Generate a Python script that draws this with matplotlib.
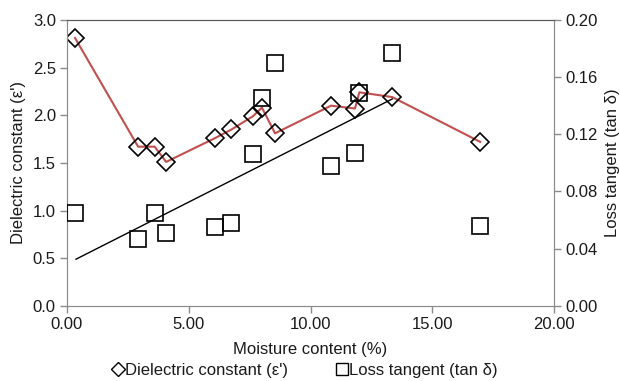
import numpy as np
import matplotlib
matplotlib.use('Agg')
import matplotlib.pyplot as plt
from matplotlib.lines import Line2D

plt.rcParams['font.family'] = ['Liberation Sans', 'DejaVu Sans']

# moisture content (%)
moisture = [0.33, 2.92, 3.60, 4.07, 6.08, 6.75, 7.64, 8.00, 8.54, 10.84, 11.82, 12.00, 13.35, 16.96]
# dielectric constant (left axis)
dielectric = [2.81, 1.67, 1.67, 1.51, 1.76, 1.85, 1.99, 2.08, 1.81, 2.10, 2.07, 2.24, 2.19, 1.72]
# loss tangent (right axis)
loss_tan = [0.065, 0.047, 0.065, 0.051, 0.055, 0.058, 0.106, 0.145, 0.170, 0.098, 0.107, 0.149, 0.177, 0.056]
# linear trend line (drawn against left axis)
trend_x = [0.37, 13.35]
trend_y = [0.49, 2.17]

grey = '#8c8c8c'
txt = '#1a1a1a'
fs = 12

fig = plt.figure(figsize=(6.2, 3.81), dpi=100)
ax = fig.add_axes([0.108, 0.197, 0.786, 0.751])
ax2 = ax.twinx()

ax.plot(moisture, dielectric, color='#c0504d', lw=1.5, zorder=2)
ax.plot(trend_x, trend_y, color='black', lw=1.0, zorder=2)
ax.plot(moisture, dielectric, ls='none', marker='D', ms=9, mfc='none', mec='black', mew=1.2, zorder=3)
ax2.plot(moisture, loss_tan, ls='none', marker='s', ms=12, mfc='none', mec='black', mew=1.2, zorder=3)

ax.set_xlim(0, 20)
ax.set_ylim(0, 3.0)
ax2.set_ylim(0, 0.20)
ax.set_xticks(np.arange(0, 20.1, 5))
ax.set_xticklabels([f'{v:.2f}' for v in np.arange(0, 20.1, 5)])
ax.set_yticks(np.arange(0, 3.01, 0.5))
ax.set_yticklabels([f'{v:.1f}' for v in np.arange(0, 3.01, 0.5)])
ax2.set_yticks(np.arange(0, 0.201, 0.04))
ax2.set_yticklabels([f'{v:.2f}' for v in np.arange(0, 0.201, 0.04)])

for a in (ax, ax2):
    for s in a.spines.values():
        s.set_color(grey)
    a.spines['top'].set_color('#595959')
    a.tick_params(colors=grey, labelcolor=txt, labelsize=fs, length=5, width=1, pad=3)

ax.set_xlabel('Moisture content (%)', fontsize=fs, color=txt, labelpad=7)
ax.set_ylabel("Dielectric constant (ε')", fontsize=fs, color=txt, labelpad=5)
ax2.set_ylabel('Loss tangent (tan δ)', fontsize=fs, color=txt, rotation=90, labelpad=5)

handles = [Line2D([], [], ls='none', marker='D', ms=7, mfc='none', mec='black', mew=1),
           Line2D([], [], ls='none', marker='s', ms=8, mfc='none', mec='black', mew=1)]
fig.legend(handles, ["Dielectric constant (ε')", 'Loss tangent (tan δ)'],
           loc='center', bbox_to_anchor=(0.493, 0.027), ncol=2, frameon=False,
           fontsize=fs, handlelength=0.5, handletextpad=0.15, columnspacing=3.0,
           labelcolor=txt)

fig.savefig('out.png', dpi=100)
